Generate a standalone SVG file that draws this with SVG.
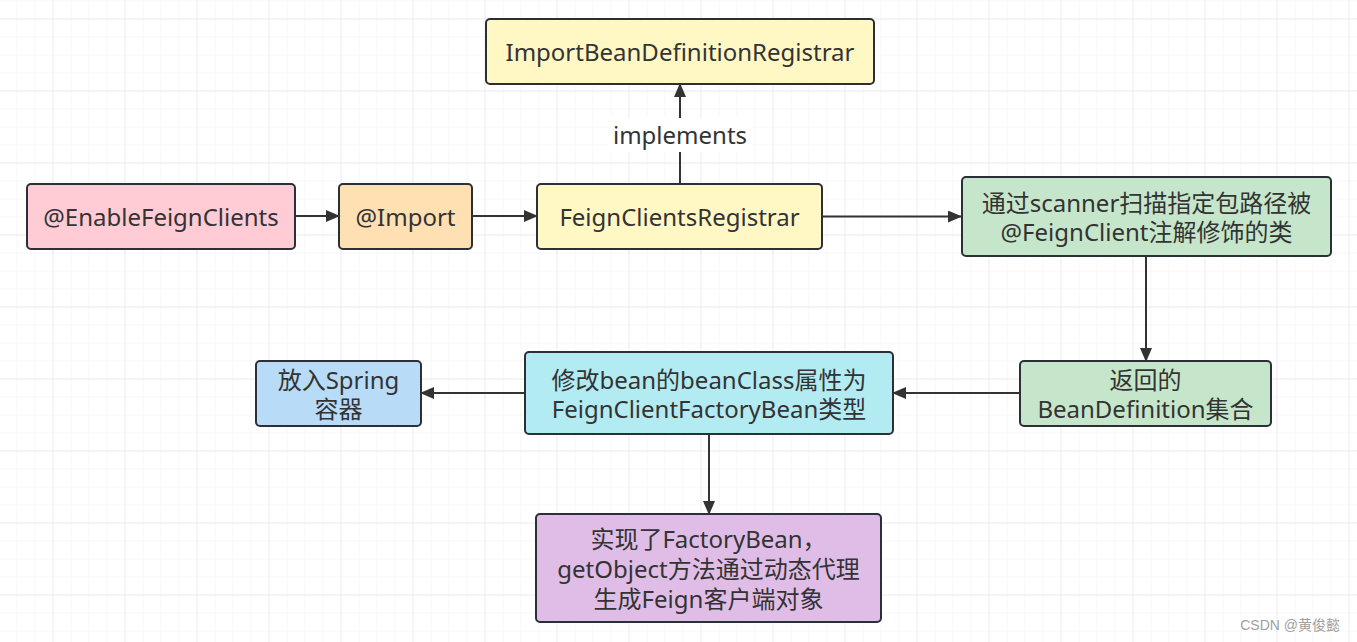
<svg xmlns="http://www.w3.org/2000/svg" width="1357" height="642" viewBox="0 0 1357 642">
<defs>
<pattern id="minor" width="18" height="18" patternUnits="userSpaceOnUse" x="16.5" y="0.5">
<path d="M0 0H18M0 0V18" fill="none" stroke="#efefef" stroke-width="1"/>
</pattern>
<pattern id="major" width="72" height="72" patternUnits="userSpaceOnUse" x="52.5" y="18.5">
<path d="M0 0H72M0 0V72" fill="none" stroke="#e2e2e2" stroke-width="1"/>
</pattern>
<marker id="arr" markerWidth="14" markerHeight="12" refX="13" refY="6" orient="auto" markerUnits="userSpaceOnUse">
<path d="M0 0L14 6L0 12Z" fill="#333"/>
</marker>
<style>
.box{stroke:#2b2f36;stroke-width:2}
.t{font-family:"Noto Sans","Noto Sans CJK SC",sans-serif;font-size:24px;fill:#333;text-anchor:middle;dominant-baseline:central}
.c{fill:none;stroke:#333;stroke-width:2;marker-end:url(#arr)}
</style>
</defs>
<rect width="1357" height="642" fill="#fff"/>
<rect width="1357" height="642" fill="url(#minor)"/>
<rect width="1357" height="642" fill="url(#major)"/>

<g id="connectors">
<path class="c" d="M295 216H339"/>
<path class="c" d="M472 216H537"/>
<path class="c" d="M822 216.5H961"/>
<path class="c" d="M680 184V84"/>
<path class="c" d="M1146 256V361"/>
<path class="c" d="M1020 393H893"/>
<path class="c" d="M525 393H421"/>
<path class="c" d="M709 434V514"/>
<rect x="608" y="118" width="144" height="34" fill="#fff"/>
<text class="t" x="680" y="134">implements</text>
</g>

<g id="n-enable">
<rect class="box" x="27" y="184" width="268" height="65" rx="4" fill="#ffccd5"/>
<text class="t" x="161" y="216">@EnableFeignClients</text>
</g>
<g id="n-import">
<rect class="box" x="339" y="184" width="133" height="65" rx="4" fill="#ffe0b3"/>
<text class="t" x="405.5" y="216">@Import</text>
</g>
<g id="n-registrar">
<rect class="box" x="537" y="184" width="285" height="65" rx="4" fill="#fff8c4"/>
<text class="t" x="679.5" y="216">FeignClientsRegistrar</text>
</g>
<g id="n-ibdr">
<rect class="box" x="486" y="19" width="388" height="65" rx="4" fill="#fff8c4"/>
<text class="t" x="680" y="51">ImportBeanDefinitionRegistrar</text>
</g>
<g id="n-scan">
<rect class="box" x="962" y="177" width="369" height="79" rx="4" fill="#c6e6cb"/>
<text class="t" x="1146.5" y="202">通过scanner扫描指定包路径被</text>
<text class="t" x="1146.5" y="231">@FeignClient注解修饰的类</text>
</g>
<g id="n-beandef">
<rect class="box" x="1020" y="361" width="251" height="65" rx="4" fill="#c6e6cb"/>
<text class="t" x="1145.5" y="379">返回的</text>
<text class="t" x="1145.5" y="408">BeanDefinition集合</text>
</g>
<g id="n-modify">
<rect class="box" x="525" y="352" width="368" height="82" rx="4" fill="#b3ebf2"/>
<text class="t" x="709" y="379">修改bean的beanClass属性为</text>
<text class="t" x="709" y="408">FeignClientFactoryBean类型</text>
</g>
<g id="n-spring">
<rect class="box" x="256" y="361" width="165" height="65" rx="4" fill="#b8dcf8"/>
<text class="t" x="338.5" y="379">放入Spring</text>
<text class="t" x="338.5" y="408">容器</text>
</g>
<g id="n-factory">
<rect class="box" x="536" y="514" width="345" height="108" rx="4" fill="#e0bde6"/>
<text class="t" x="708.5" y="538">实现了FactoryBean，</text>
<text class="t" x="708.5" y="568">getObject方法通过动态代理</text>
<text class="t" x="708.5" y="598">生成Feign客户端对象</text>
</g>
<text x="1340" y="625" font-family="'Liberation Sans','Noto Sans CJK SC',sans-serif" font-size="14" fill="#a0a0a0" text-anchor="end" dominant-baseline="central">CSDN @黄俊懿</text>
</svg>
